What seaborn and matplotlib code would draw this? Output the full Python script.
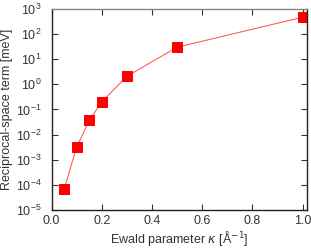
import seaborn as sns
import matplotlib.pyplot as plt
import matplotlib.ticker as mticker
import pandas as pd

kappa = [0.05, 0.1, 0.15, 0.2, 0.3, 0.5, 1.0]
recip = [6.8e-5, 3.2e-3, 0.037, 0.2, 2.1, 30, 470]

df = pd.DataFrame({'kappa': kappa, 'recip': recip})

sns.set_style('ticks')
plt.rcParams['font.family'] = ['Liberation Sans', 'DejaVu Sans']
plt.rcParams['mathtext.fontset'] = 'dejavusans'

fig = plt.figure(figsize=(3.11, 2.49), dpi=100)
ax = fig.add_axes([0.166, 0.157, 0.820, 0.807])

sns.lineplot(data=df, x='kappa', y='recip', ax=ax, color='#ff6060', linewidth=0.8,
             marker='s', markersize=6.5, markerfacecolor='#ff0000', markeredgecolor='#ff0000')

ax.set_yscale('log')
ax.set_ylim(1e-5, 1e3)
ax.set_xlim(0, 1.016)
ax.set_xticks([0.0, 0.2, 0.4, 0.6, 0.8, 1.0])
ax.xaxis.set_major_formatter(mticker.FormatStrFormatter('%.1f'))
ax.yaxis.set_major_locator(mticker.LogLocator(base=10, numticks=20))
ax.yaxis.set_minor_locator(mticker.NullLocator())

ax.tick_params(direction='in', top=True, right=True, length=4, width=0.8,
               labelsize=9, colors='#333333', labelcolor='#333333')
ax.tick_params(axis='x', pad=4)
ax.tick_params(axis='y', pad=7)
for s in ['left', 'right', 'bottom']:
    ax.spines[s].set_color('#222222')
    ax.spines[s].set_linewidth(1.0)
ax.spines['top'].set_color('#888888')
ax.spines['top'].set_linewidth(1.0)

ax.set_xlabel(r'Ewald parameter $\kappa$ [Å$^{-1}$]', fontsize=9, color='#333333', labelpad=1)
ax.set_ylabel('Reciprocal-space term [meV]', fontsize=9, color='#333333', labelpad=2)

fig.savefig('out.png', dpi=100)
